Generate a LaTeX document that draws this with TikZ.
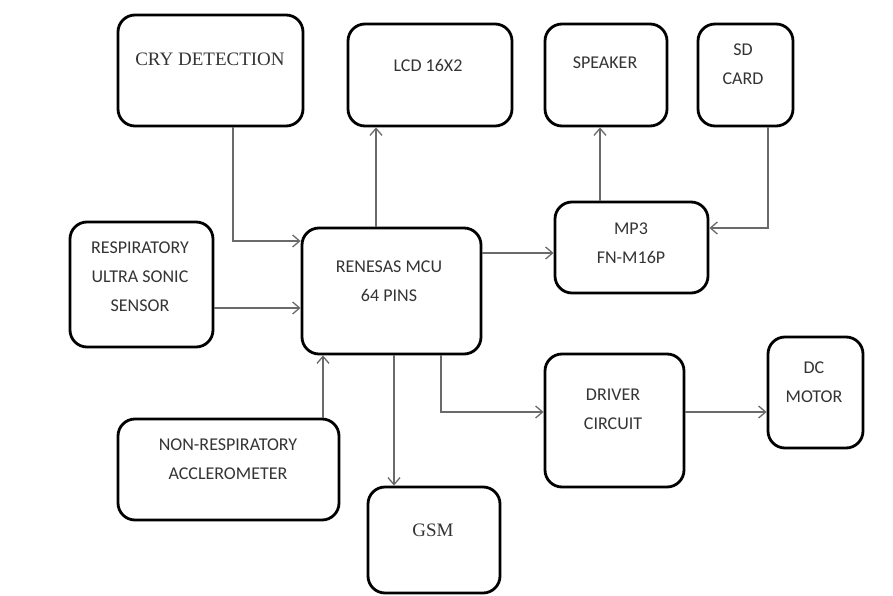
\documentclass[tikz,border=0pt]{standalone}
\usepackage{fontspec}
\setmainfont{Carlito}
\newfontfamily\timesfont{Liberation Serif}
\usetikzlibrary{arrows.meta}
\definecolor{inkgray}{HTML}{343434}
\definecolor{wiregray}{HTML}{6A6A6A}
\tikzset{
  blockbox/.style={draw=black, line width=2.8pt, rounded corners=17pt, fill=white, inner sep=0pt},
  lbl/.style={text=inkgray, align=center, inner sep=0pt,
    font=\fontsize{18}{29}\selectfont},
  serlbl/.style={lbl, font=\fontsize{19}{29}\selectfont\timesfont},
  conn/.style={draw=wiregray, line width=1.4pt, -{Straight Barb[length=7pt,width=12pt,line width=1.3pt]}},
}
\begin{document}
\begin{tikzpicture}[x=1pt, y=-1pt]
\useasboundingbox (0,0) rectangle (893,596);

% blocks
\node[blockbox, minimum width=185pt, minimum height=111pt] (cry) at (210.5,70.5) {};
\node[blockbox, minimum width=164pt, minimum height=102pt] (lcd) at (430,75) {};
\node[blockbox, minimum width=122pt, minimum height=102pt] (spk) at (606,75) {};
\node[blockbox, minimum width=95pt,  minimum height=102pt] (sd)  at (745.5,75) {};
\node[blockbox, minimum width=143pt, minimum height=125pt] (resp) at (141.5,284.5) {};
\node[blockbox, minimum width=179pt, minimum height=126pt] (mcu) at (391.5,291) {};
\node[blockbox, minimum width=153pt, minimum height=91pt]  (mp3) at (631.5,247.5) {};
\node[blockbox, minimum width=139pt, minimum height=133pt] (drv) at (614.5,420.5) {};
\node[blockbox, minimum width=95pt,  minimum height=111pt] (dcm) at (815.5,392.5) {};
\node[blockbox, minimum width=221pt, minimum height=101pt] (acc) at (228.5,469.5) {};
\node[blockbox, minimum width=132pt, minimum height=106pt] (gsm) at (434,540) {};

% labels
\node[serlbl] (cryT) at (210,59) {CRY DETECTION};
\node[lbl] (lcdT) at (428,65) {LCD 16X2};
\node[lbl] (spkT) at (605,63) {SPEAKER};
\node[lbl] (sdT) at (743,64) {SD\\CARD};
\node[lbl] (respT) at (140,277) {RESPIRATORY\\ULTRA SONIC\\SENSOR};
\node[lbl] (mcuT) at (389,281) {RENESAS MCU\\64 PINS};
\node[lbl] (mp3T) at (631,243) {MP3\\FN-M16P};
\node[lbl] (drvT) at (613,409) {DRIVER\\CIRCUIT};
\node[lbl] (dcmT) at (814,382) {DC\\MOTOR};
\node[lbl] (accT) at (228,459) {NON-RESPIRATORY\\ACCLEROMETER};
\node[serlbl] (gsmT) at (433,530) {GSM};

% routing guides
\coordinate (gCry) at (233,241);
\coordinate (gLcd) at (376,0);
\coordinate (gMp3) at (0,253);
\coordinate (gSpk) at (600,0);
\coordinate (gSd)  at (768,228);
\coordinate (gResp) at (0,308);
\coordinate (gAcc) at (323,0);
\coordinate (gGsm) at (394,0);
\coordinate (gDrv) at (441,412);

% connectors
\draw[conn] (gCry |- cry.south) |- (gCry -| mcu.west);
\draw[conn] (gLcd |- mcu.north) -- (gLcd |- lcd.south);
\draw[conn] (gMp3 -| mcu.east) -- (gMp3 -| mp3.west);
\draw[conn] (gSpk |- mp3.north) -- (gSpk |- spk.south);
\draw[conn] (gSd |- sd.south) |- (gSd -| mp3.east);
\draw[conn] (gResp -| resp.east) -- (gResp -| mcu.west);
\draw[conn] (gAcc |- acc.north) -- (gAcc |- mcu.south);
\draw[conn] (gGsm |- mcu.south) -- (gGsm |- gsm.north);
\draw[conn] (gDrv |- mcu.south) |- (gDrv -| drv.west);
\draw[conn] (gDrv -| drv.east) -- (gDrv -| dcm.west);
\end{tikzpicture}
\end{document}
